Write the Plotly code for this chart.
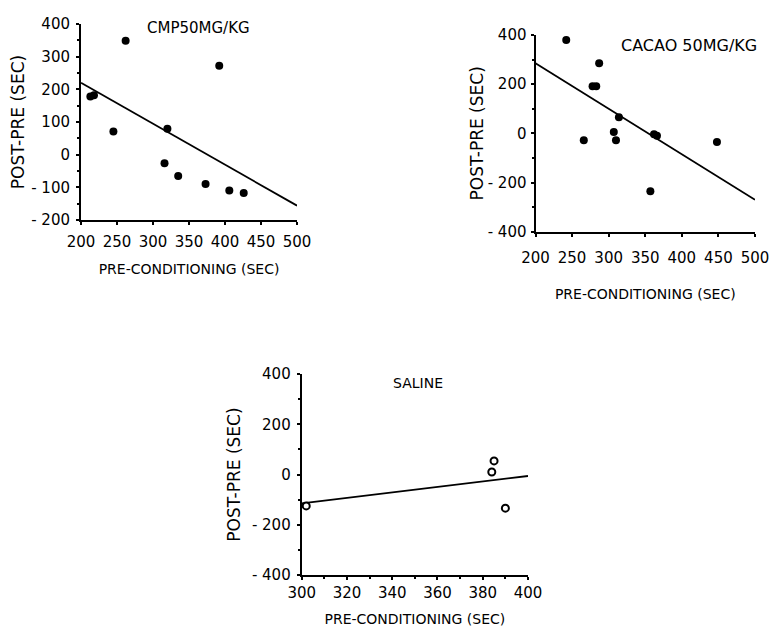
import plotly.graph_objects as go

# ---- data ----
cmp_x = [213, 218, 262, 245, 392, 320, 316, 335, 373, 406, 426]
cmp_y = [178, 182, 349, 71, 272, 79, -26, -65, -90, -110, -117]
cmp_fit_x = [200, 500]
cmp_fit_y = [220, -156]

cacao_x = [242, 287, 278, 283, 266, 307, 310, 314, 362, 366, 357, 448]
cacao_y = [380, 285, 192, 192, -28, 5, -28, 65, -4, -10, -235, -35]
cacao_fit_x = [200, 500]
cacao_fit_y = [285, -270]

saline_x = [302, 384, 385, 390]
saline_y = [-125, 10, 54, -134]
saline_fit_x = [300, 400]
saline_fit_y = [-115, -6]

x12_ticks = [200, 250, 300, 350, 400, 450, 500]
y1_ticks = [-200, -100, 0, 100, 200, 300, 400]
y1_labels = ["- 200", "- 100", "0", "100", "200", "300", "400"]
y23_ticks = [-400, -200, 0, 200, 400]
y23_labels = ["- 400", "- 200", "0", "200", "400"]
x3_ticks = [300, 320, 340, 360, 380, 400]

titles = ["CMP50MG/KG", "CACAO 50MG/KG", "SALINE"]
x_title = "PRE-CONDITIONING (SEC)"
y_title = "POST-PRE (SEC)"

# page body has an 8px margin; figure shrunk so it fits the 777x627 window
OFF = 8
W, H = 777 - OFF, 627 - OFF
FONT = "DejaVu Sans"
fig = go.Figure()

def pxx(p):
    return (p - OFF) / W

def pxy(p):
    return 1 - (p - OFF) / H

# plot 1
fig.add_trace(go.Scatter(x=cmp_fit_x, y=cmp_fit_y, mode="lines",
                         line=dict(color="black", width=1.8), xaxis="x", yaxis="y", cliponaxis=False))
fig.add_trace(go.Scatter(x=cmp_x, y=cmp_y, mode="markers",
                         marker=dict(color="black", size=8), xaxis="x", yaxis="y", cliponaxis=False))
# plot 2
fig.add_trace(go.Scatter(x=cacao_fit_x, y=cacao_fit_y, mode="lines",
                         line=dict(color="black", width=1.8), xaxis="x2", yaxis="y2", cliponaxis=False))
fig.add_trace(go.Scatter(x=cacao_x, y=cacao_y, mode="markers",
                         marker=dict(color="black", size=8), xaxis="x2", yaxis="y2", cliponaxis=False))
# plot 3
fig.add_trace(go.Scatter(x=saline_fit_x, y=saline_fit_y, mode="lines",
                         line=dict(color="black", width=1.8), xaxis="x3", yaxis="y3", cliponaxis=False))
fig.add_trace(go.Scatter(x=saline_x, y=saline_y, mode="markers",
                         marker=dict(color="white", size=7, line=dict(color="black", width=2)),
                         xaxis="x3", yaxis="y3", cliponaxis=False))

common = dict(showgrid=False, zeroline=False, showline=True, linecolor="black", linewidth=2,
              ticks="outside", tickcolor="black", ticklen=3, tickwidth=1.5, automargin=False,
              tickfont=dict(family=FONT, size=15, color="black"))
xt_font = dict(family=FONT, size=14, color="black")
yt_font = dict(family=FONT, size=17, color="black")

fig.update_layout(
    width=W, height=H, showlegend=False,
    paper_bgcolor="white", plot_bgcolor="white",
    margin=dict(l=0, r=0, t=0, b=0),
    xaxis=dict(common, domain=[pxx(81), pxx(297)], range=[200, 500], anchor="y",
               tickvals=x12_ticks, ticklabelstandoff=4,
               title=dict(text=x_title, standoff=14, font=xt_font)),
    yaxis=dict(common, domain=[pxy(220), pxy(24)], range=[-200, 400], anchor="x",
               tickvals=y1_ticks, ticktext=y1_labels, ticklabelstandoff=3,
               minor=dict(ticks="outside", ticklen=2, tickcolor="black", dtick=50),
               title=dict(text=y_title, standoff=7, font=yt_font)),
    xaxis2=dict(common, domain=[pxx(535.5), pxx(755)], range=[200, 500], anchor="y2",
                tickvals=x12_ticks, ticklabelstandoff=8,
                title=dict(text=x_title, standoff=23, font=xt_font)),
    yaxis2=dict(common, domain=[pxy(231.7), pxy(35)], range=[-400, 400], anchor="x2",
                tickvals=y23_ticks, ticktext=y23_labels, ticklabelstandoff=1,
                minor=dict(ticks="outside", ticklen=2, tickcolor="black", dtick=100),
                title=dict(text=y_title, standoff=0, font=yt_font)),
    xaxis3=dict(common, domain=[pxx(301.7), pxx(528)], range=[300, 400], anchor="y3",
                tickvals=x3_ticks, ticklabelstandoff=0,
                minor=dict(ticks="outside", ticklen=2, tickcolor="black", dtick=10),
                title=dict(text=x_title, standoff=15, font=xt_font)),
    yaxis3=dict(common, domain=[pxy(575), pxy(374)], range=[-400, 400], anchor="x3",
                tickvals=y23_ticks, ticktext=y23_labels, ticklabelstandoff=3,
                minor=dict(ticks="outside", ticklen=2, tickcolor="black", dtick=100),
                title=dict(text=y_title, standoff=7, font=yt_font)),
)

ann_pos = [(198, 28), (689, 45), (418, 383)]
ann_size = [15, 16, 14]
for t, (ax, ay), sz in zip(titles, ann_pos, ann_size):
    fig.add_annotation(text=t, x=pxx(ax), y=pxy(ay), xref="paper", yref="paper",
                       showarrow=False, xanchor="center", yanchor="middle",
                       font=dict(family=FONT, size=sz, color="black"))

fig.write_html("out.html")
